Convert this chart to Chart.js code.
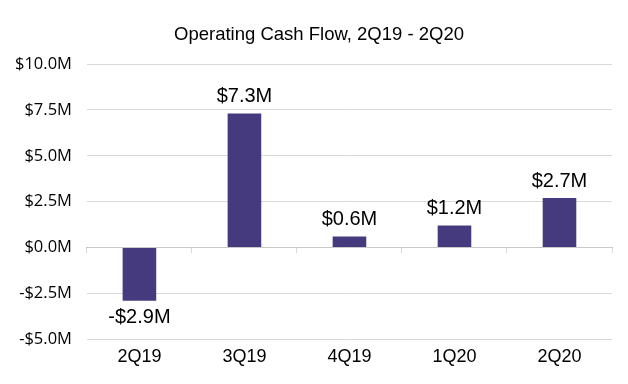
<!DOCTYPE html>
<html>
<head>
<meta charset="utf-8">
<script src="https://cdn.jsdelivr.net/npm/chart.js@4"></script>
<style>
  html, body { margin: 0; padding: 0; background: #fff; }
  #wrap { width: 628px; height: 384px; }
</style>
</head>
<body>
<div id="wrap"><canvas id="chart" width="628" height="384"></canvas></div>
<script>
// quarters and operating cash flow ($M)
const quarters = ['2Q19', '3Q19', '4Q19', '1Q20', '2Q20'];
const cashFlow = [-2.9, 7.3, 0.6, 1.2, 2.7];
const yMin = -5, yMax = 10, yStep = 2.5;
const chartTitle = 'Operating Cash Flow, 2Q19 - 2Q20';

const fmt = (v) => (v < 0 ? '-$' : '$') + Math.abs(v).toFixed(1) + 'M';

// title centred on the whole chart box, plus value labels above / below each bar
const barLabels = {
  id: 'barLabels',
  afterDatasetsDraw(chart) {
    const ctx = chart.ctx;
    const meta = chart.getDatasetMeta(0);
    ctx.save();
    ctx.fillStyle = '#000';
    ctx.textAlign = 'center';

    ctx.font = '18.5px "Liberation Sans", Arial, sans-serif';
    ctx.textBaseline = 'middle';
    ctx.fillText(chartTitle, chart.width / 2 + 5, 35);

    ctx.font = '20px "Liberation Sans", Arial, sans-serif';
    meta.data.forEach((bar, i) => {
      const v = cashFlow[i];
      if (v >= 0) {
        ctx.textBaseline = 'bottom';
        ctx.fillText(fmt(v), bar.x, bar.y - 7);
      } else {
        ctx.textBaseline = 'top';
        ctx.fillText(fmt(v), bar.x, bar.y + 7);
      }
    });
    ctx.restore();
  }
};

new Chart(document.getElementById('chart'), {
  type: 'bar',
  data: {
    labels: quarters,
    datasets: [{
      data: cashFlow,
      backgroundColor: '#463a7e',
      categoryPercentage: 1,
      barPercentage: 0.32
    }]
  },
  options: {
    responsive: false,
    animation: false,
    layout: { padding: { left: 0, right: 16, top: 64, bottom: 9 } },
    plugins: {
      legend: { display: false },
      tooltip: { enabled: false },
      title: { display: false }
    },
    scales: {
      x: {
        offset: true,
        grid: { display: false, drawTicks: false },
        border: { display: false },
        ticks: {
          color: '#000',
          padding: 7,
          font: { family: '"Liberation Sans", Arial, sans-serif', size: 18 }
        }
      },
      x0: {
        // category axis crossing at zero, ticks only
        offset: true,
        position: { y: 0 },
        grid: { drawOnChartArea: false, drawTicks: true, tickLength: 5, color: '#d9d9d9', offset: true },
        border: { display: true, color: '#c8c8c8' },
        ticks: { display: false }
      },
      y: {
        min: yMin,
        max: yMax,
        grid: { color: '#d9d9d9', drawTicks: false },
        border: { display: false },
        ticks: {
          stepSize: yStep,
          color: '#000',
          padding: 15,
          callback: (v) => fmt(v),
          font: { family: '"Open Sans", Calibri, sans-serif', size: 16.5 }
        }
      }
    }
  },
  plugins: [barLabels]
});
</script>
</body>
</html>
